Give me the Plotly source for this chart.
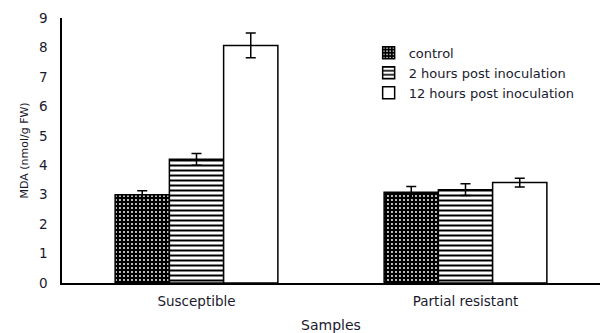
import plotly.graph_objects as go

categories = ["Susceptible", "Partial resistant"]
series_names = ["control", "2 hours post inoculation", "12 hours post inoculation"]
control = [3.0, 3.08]
h2 = [4.2, 3.17]
h12 = [8.07, 3.41]
control_err = [0.13, 0.2]
h2_err = [0.2, 0.2]
h12_err = [0.42, 0.15]
y_ticks = [0, 1, 2, 3, 4, 5, 6, 7, 8, 9]

FONT = "DejaVu Sans"
TXT = "#1a1a2e"

patterns = [
    dict(shape=".", bgcolor="black", fgcolor="white", size=4, solidity=0.18, fillmode="replace"),
    dict(shape="-", bgcolor="white", fgcolor="black", size=5, solidity=0.4, fillmode="replace"),
    dict(shape="", bgcolor="white", fgcolor="white"),
]

fig = go.Figure()
for name, vals, errs, pat in zip(series_names, [control, h2, h12],
                                 [control_err, h2_err, h12_err], patterns):
    fig.add_trace(go.Bar(
        name=name, x=categories, y=vals,
        marker=dict(color="white", pattern=pat, line=dict(color="black", width=1.5)),
        error_y=dict(type="data", array=errs, visible=True, color="black",
                     thickness=1.5, width=5),
    ))

fig.update_layout(
    width=601, height=333,
    margin=dict(l=62, r=1, t=18, b=50),
    paper_bgcolor="white", plot_bgcolor="white",
    barmode="group", bargap=0.395, bargroupgap=0,
    font=dict(family=FONT, color=TXT, size=12),
    showlegend=True,
    legend=dict(x=0.57, y=0.925, xanchor="left", yanchor="top",
                font=dict(family=FONT, size=13, color=TXT),
                bgcolor="rgba(0,0,0,0)", tracegroupgap=0),
    xaxis=dict(showline=True, linecolor="black", linewidth=1.5, ticks="",
               showgrid=False, tickfont=dict(size=13.5, color=TXT), ticklabelstandoff=5,
               title=dict(text="Samples", font=dict(size=14, color=TXT), standoff=14)),
    yaxis=dict(range=[0, 9], tickvals=y_ticks, showline=True, linecolor="black",
               linewidth=1.5, ticks="", showgrid=False, zeroline=False,
               tickfont=dict(size=13.5, color=TXT), ticklabelstandoff=10,
               title=dict(text="MDA (nmol/g FW)", font=dict(size=11, color=TXT), standoff=8)),
)

fig.write_html("out.html")
